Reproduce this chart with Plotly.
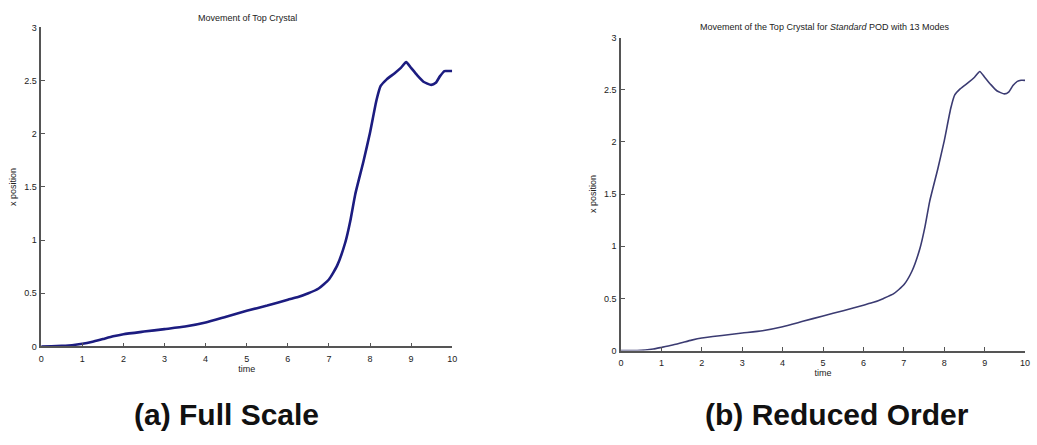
import plotly.graph_objects as go
from plotly.subplots import make_subplots

# Time samples and x position of the top crystal (full-scale simulation)
time_full = [0.0, 0.25, 0.5, 0.75, 1.0, 1.25, 1.5, 1.75, 2.0, 2.5, 3.0, 3.5, 4.0,
             4.5, 5.0, 5.5, 6.0, 6.25, 6.5, 6.75, 7.0, 7.2, 7.4, 7.52, 7.64, 7.84,
             8.0, 8.16, 8.26, 8.4, 8.6, 8.75, 8.88, 9.0, 9.15, 9.3, 9.49, 9.6, 9.7,
             9.81, 9.9, 10.0]
xpos_full = [0.0, 0.002, 0.006, 0.012, 0.025, 0.045, 0.07, 0.095, 0.115, 0.14,
             0.163, 0.187, 0.225, 0.28, 0.335, 0.385, 0.44, 0.465, 0.5, 0.545,
             0.63, 0.76, 0.98, 1.18, 1.43, 1.74, 2.01, 2.32, 2.45, 2.51, 2.57,
             2.62, 2.675, 2.62, 2.55, 2.49, 2.46, 2.48, 2.54, 2.59, 2.59, 2.59]

# Same quantity from the reduced-order model (standard POD, 13 modes)
time_rom = [0.0, 0.2, 0.4, 0.6, 0.8, 1.0, 1.25, 1.5, 1.75, 2.0, 2.5, 3.0, 3.5,
            4.0, 4.5, 5.0, 5.5, 6.0, 6.25, 6.5, 6.75, 7.0, 7.2, 7.4, 7.52, 7.64,
            7.84, 8.0, 8.16, 8.26, 8.4, 8.6, 8.75, 8.88, 9.0, 9.15, 9.3, 9.49,
            9.6, 9.7, 9.81, 9.9, 10.0]
xpos_rom = [0.0, 0.0, 0.0, 0.005, 0.015, 0.03, 0.05, 0.075, 0.1, 0.12, 0.145,
            0.168, 0.19, 0.228, 0.28, 0.332, 0.382, 0.435, 0.462, 0.5, 0.545,
            0.63, 0.76, 0.98, 1.18, 1.43, 1.74, 2.01, 2.32, 2.45, 2.51, 2.57,
            2.62, 2.675, 2.62, 2.55, 2.49, 2.46, 2.48, 2.54, 2.58, 2.59, 2.59]

x_ticks = [0, 1, 2, 3, 4, 5, 6, 7, 8, 9, 10]
y_ticks = [0, 0.5, 1, 1.5, 2, 2.5, 3]
y_tick_text = ["0", "0.5", "1", "1.5", "2", "2.5", "3"]

panel_titles = ["Movement of Top Crystal",
                "Movement of the Top Crystal for <i>Standard</i> POD with 13 Modes"]
captions = ["(a) Full Scale", "(b) Reduced Order"]

FONT = "Arial, Liberation Sans, sans-serif"
W, H = 1037, 445

fig = make_subplots(rows=1, cols=2)

fig.add_trace(go.Scatter(x=time_full, y=xpos_full, mode="lines",
                         line=dict(color="#1c1c80", width=2.6, shape="spline", smoothing=0.5),
                         showlegend=False), row=1, col=1)
fig.add_trace(go.Scatter(x=time_rom, y=xpos_rom, mode="lines",
                         line=dict(color="#3b3b72", width=1.6, shape="spline", smoothing=0.5),
                         showlegend=False), row=1, col=2)

axis_common = dict(showline=True, linecolor="#555555", linewidth=1.5,
                   ticks="inside", ticklen=4, tickcolor="#555555", tickwidth=1,
                   showgrid=False, zeroline=False, mirror=False,
                   tickfont=dict(family=FONT, size=9, color="#222222"))

fig.update_xaxes(range=[0, 10], tickvals=x_ticks, ticktext=[str(v) for v in x_ticks],
                 ticklabelstandoff=3,
                 title=dict(text="time", font=dict(family=FONT, size=9, color="#222222"),
                            standoff=3),
                 **axis_common)
fig.update_yaxes(range=[0, 3], tickvals=y_ticks, ticktext=y_tick_text,
                 ticklabelstandoff=1,
                 title=dict(text="x position", font=dict(family=FONT, size=9, color="#222222"),
                            standoff=6),
                 **axis_common)

fig.update_layout(
    width=W, height=H,
    margin=dict(l=0, r=0, t=0, b=0),
    paper_bgcolor="white", plot_bgcolor="white",
    xaxis=dict(domain=[38.5 / W, 452.7 / W]),
    yaxis=dict(domain=[1 - 349.3 / H, 1 - 23 / H]),
    xaxis2=dict(domain=[622.8 / W, 1030 / W]),
    yaxis2=dict(domain=[1 - 353.5 / H, 1 - 33.3 / H]),
)

# Panel titles above each plot
fig.add_annotation(text=panel_titles[0], xref="paper", yref="paper",
                   x=246.5 / W, y=1 - 13 / H, showarrow=False,
                   xanchor="center", yanchor="middle",
                   font=dict(family=FONT, size=9, color="#222222"))
fig.add_annotation(text=panel_titles[1], xref="paper", yref="paper",
                   x=828 / W, y=1 - 23 / H, showarrow=False,
                   xanchor="center", yanchor="middle",
                   font=dict(family=FONT, size=9, color="#222222"))

# Captions below the panels
fig.add_annotation(text="<b>" + captions[0] + "</b>", xref="paper", yref="paper",
                   x=225 / W, y=1 - 419 / H, showarrow=False,
                   xanchor="center", yanchor="middle",
                   font=dict(family=FONT, size=30, color="#111111"))
fig.add_annotation(text="<b>" + captions[1] + "</b>", xref="paper", yref="paper",
                   x=840 / W, y=1 - 419 / H, showarrow=False,
                   xanchor="center", yanchor="middle",
                   font=dict(family=FONT, size=30, color="#111111"))

fig.write_html("out.html")
